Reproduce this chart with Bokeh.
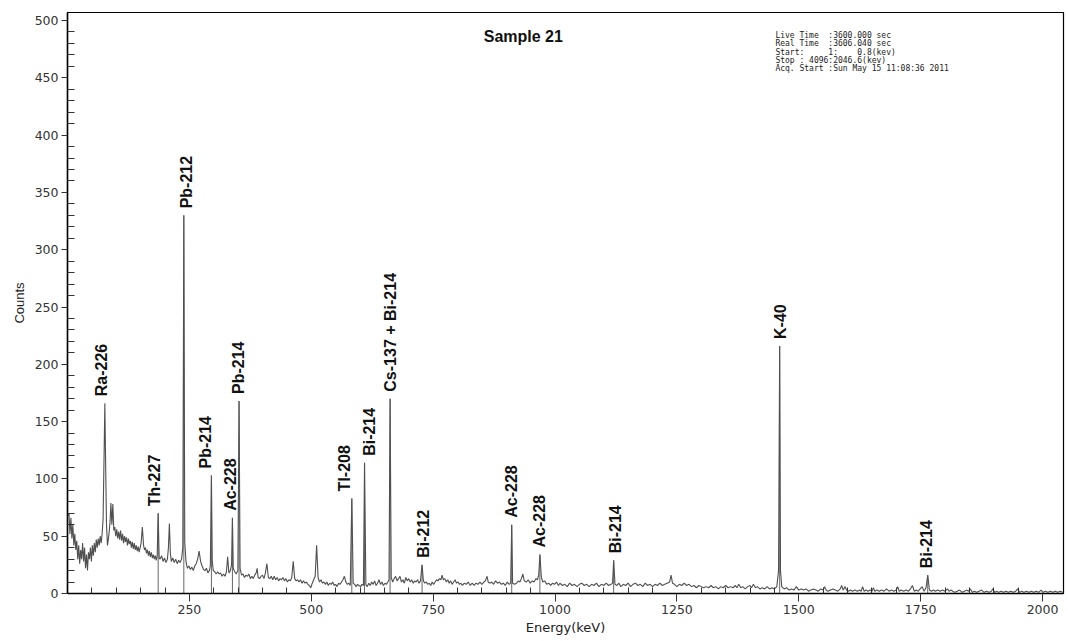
from math import pi
from bokeh.plotting import figure
from bokeh.models import FixedTicker, Label, Range1d, ColumnDataSource
from bokeh.core.properties import value
from bokeh.embed import file_html
from bokeh.resources import INLINE

# ---------------- data ----------------
energy_kev = [
    1, 3, 5, 7, 9, 11, 13, 15, 17, 19,
    21, 23, 25, 27, 29, 31, 33, 35, 37, 39,
    41, 43, 45, 47, 49, 51, 53, 55, 57, 59,
    61, 63, 65, 67, 69, 71, 73, 75, 76.6, 78,
    80, 82, 84, 86, 87.5, 89, 91, 93, 95, 97,
    99, 101, 103, 105, 107, 109, 111, 113, 115, 117,
    119, 121, 123, 125, 127, 129, 131, 133, 135, 137,
    139, 141, 143, 145, 147, 149, 151, 153.5, 156, 158,
    160, 162, 164, 166, 168, 170, 172, 174, 176, 178,
    180, 182, 184, 186, 188, 190, 193, 196, 199, 202,
    205, 207, 209, 211, 213, 216, 219, 222, 225, 228,
    231, 234, 236.5, 238.6, 240.5, 243, 246, 249, 252, 255,
    258, 261, 264, 267, 270, 273, 276, 279, 282, 285,
    288, 291, 293, 295.2, 297, 299, 302, 305, 308, 311,
    314, 317, 320, 323, 326, 328.5, 331, 334, 336.5, 338.3,
    340, 343, 346, 349.5, 351.9, 354, 357, 360, 363, 366,
    369, 372, 375, 378, 381, 384, 387, 389, 391, 394,
    397, 400, 403, 406, 409, 412, 415, 418, 421, 424,
    427, 430, 433, 436, 439, 442, 445, 448, 451, 454,
    457, 460, 463, 466, 469, 472, 475, 478, 481, 484,
    487, 490, 493, 496, 499, 502, 505, 508, 511, 514,
    517, 520, 523, 526, 529, 532, 535, 538, 541, 544,
    547, 550, 553, 556, 559, 562, 565, 568, 571, 574,
    577, 580, 583.2, 586, 589, 592, 595, 598, 601, 604,
    607, 609.3, 612, 615, 618, 621, 624, 627, 630, 633,
    636, 639, 642, 645, 648, 651, 654, 657, 659.5, 661.7,
    664, 667, 670, 673, 676, 679, 682, 685, 688, 691,
    694, 697, 700, 703, 706, 709, 712, 715, 718, 721,
    724, 727.3, 730, 733, 736, 739, 742, 745, 748, 751,
    754, 757, 760, 763, 766, 768.4, 771, 774, 777, 780,
    783, 786, 789, 792, 795, 798, 801, 804, 807, 810,
    814, 818, 822, 826, 830, 834, 838, 842, 846, 850,
    854, 857, 860.6, 863, 866, 870, 874, 878, 882, 886,
    890, 894, 898, 902, 906, 909, 911.2, 913, 917, 921,
    925, 928, 931, 934, 937, 941, 945, 949, 953, 957,
    961, 964, 966.5, 969, 972, 975, 979, 983, 987, 991,
    995, 999, 1003, 1007, 1010, 1015, 1020, 1025, 1030, 1035,
    1040, 1045, 1050, 1055, 1060, 1065, 1070, 1075, 1080, 1085,
    1090, 1095, 1100, 1105, 1110, 1115, 1118, 1120.3, 1123, 1127,
    1131, 1135, 1140, 1145, 1150, 1155, 1160, 1165, 1170, 1175,
    1180, 1185, 1190, 1195, 1200, 1205, 1210, 1215, 1220, 1225,
    1230, 1235, 1238, 1241, 1245, 1250, 1255, 1260, 1265, 1270,
    1275, 1280, 1285, 1290, 1295, 1300, 1305, 1310, 1315, 1320,
    1325, 1330, 1335, 1340, 1345, 1350, 1355, 1360, 1365, 1370,
    1373, 1377, 1381, 1385, 1390, 1395, 1400, 1403, 1407, 1411,
    1415, 1420, 1425, 1430, 1435, 1440, 1445, 1450, 1455, 1458.5,
    1460.8, 1462.5, 1465, 1470, 1475, 1480, 1485, 1490, 1495, 1500,
    1505, 1510, 1515, 1520, 1525, 1530, 1535, 1540, 1545, 1550,
    1553, 1556, 1560, 1565, 1570, 1575, 1580, 1585, 1588, 1591,
    1595, 1598, 1602, 1606, 1610, 1615, 1620, 1625, 1628, 1631,
    1634, 1638, 1642, 1646, 1650, 1653, 1656, 1660, 1665, 1670,
    1675, 1680, 1685, 1690, 1695, 1700, 1703, 1706, 1710, 1715,
    1720, 1725, 1729, 1733, 1737, 1741, 1745, 1749, 1753, 1757,
    1761, 1764.5, 1768, 1772, 1776, 1780, 1785, 1790, 1795, 1800,
    1805, 1808, 1812, 1816, 1820, 1825, 1830, 1835, 1840, 1845,
    1848, 1852, 1856, 1860, 1865, 1870, 1875, 1880, 1885, 1890,
    1895, 1898, 1902, 1906, 1910, 1915, 1920, 1925, 1930, 1935,
    1940, 1945, 1949, 1953, 1957, 1962, 1967, 1972, 1977, 1982,
    1987, 1992, 1997, 2001, 2006, 2011, 2016, 2021, 2026, 2031,
    2036, 2041,
]
counts = [
    68, 70, 52, 66, 48, 60, 42, 52, 38, 46,
    30, 42, 26, 38, 30, 44, 28, 40, 22, 34,
    20, 36, 30, 40, 28, 42, 33, 44, 36, 47,
    40, 48, 42, 50, 44, 52, 65, 120, 166, 120,
    60, 42, 48, 56, 64, 79, 60, 78, 55, 58,
    50, 56, 48, 54, 47, 55, 46, 52, 44, 50,
    45, 49, 42, 48, 43, 46, 40, 45, 39, 44,
    38, 42, 37, 41, 36, 40, 44, 58, 42, 38,
    40, 35, 38, 33, 37, 32, 36, 31, 34, 30,
    33, 29, 33, 70, 31, 30, 33, 28, 31, 27,
    30, 40, 61, 35, 28, 31, 27, 30, 26, 29,
    27, 30, 40, 330, 45, 28, 22, 24, 21, 23,
    20, 24, 26, 30, 37, 28, 24, 21, 20, 22,
    18, 20, 24, 103, 28, 20, 19, 17, 19, 17,
    18, 15, 17, 15, 19, 32, 18, 20, 25, 66,
    22, 19, 17, 20, 168, 22, 16, 17, 14, 16,
    15, 17, 13, 15, 13, 16, 18, 22, 14, 13,
    15, 16, 13, 18, 26, 14, 13, 15, 12, 15,
    12, 14, 11, 13, 12, 14, 11, 13, 10, 12,
    11, 14, 28, 13, 11, 12, 10, 12, 9, 11,
    9, 10, 8, 7, 5, 9, 12, 15, 42, 14,
    10, 12, 9, 10, 8, 10, 7, 9, 8, 10,
    7, 8, 6, 9, 8, 10, 12, 15, 10, 8,
    9, 7, 83, 9, 8, 6, 8, 7, 6, 8,
    7, 114, 8, 6, 9, 7, 10, 8, 11, 7,
    9, 12, 8, 10, 7, 9, 8, 10, 12, 170,
    14, 10, 13, 15, 11, 13, 15, 10, 12, 9,
    14, 11, 13, 10, 12, 9, 11, 10, 12, 9,
    11, 25, 11, 9, 10, 8, 9, 7, 10, 8,
    10, 12, 11, 13, 12, 16, 12, 13, 10, 12,
    9, 11, 8, 10, 12, 9, 10, 8, 9, 7,
    9, 8, 10, 7, 9, 7, 9, 8, 10, 8,
    10, 11, 15, 10, 9, 10, 8, 11, 9, 10,
    8, 9, 7, 10, 8, 9, 60, 9, 8, 9,
    11, 10, 13, 17, 11, 10, 12, 9, 11, 10,
    13, 12, 16, 34, 14, 10, 11, 8, 9, 7,
    9, 8, 10, 7, 9, 7, 8, 6, 9, 7,
    8, 6, 8, 9, 7, 8, 6, 8, 7, 9,
    6, 8, 7, 9, 7, 8, 9, 29, 8, 7,
    9, 6, 8, 7, 9, 6, 8, 9, 7, 8,
    6, 9, 7, 8, 6, 8, 7, 9, 7, 8,
    9, 10, 16, 9, 8, 6, 8, 7, 9, 7,
    8, 6, 7, 5, 7, 6, 5, 6, 5, 7,
    5, 6, 4, 6, 5, 7, 5, 6, 5, 7,
    5, 8, 5, 6, 4, 6, 7, 5, 8, 5,
    6, 4, 5, 4, 6, 4, 5, 4, 6, 20,
    216, 20, 6, 4, 5, 3, 4, 3, 6, 3,
    4, 3, 4, 2, 3, 4, 3, 2, 4, 3,
    6, 3, 2, 3, 4, 3, 2, 4, 7, 3,
    6, 3, 2, 3, 2, 3, 2, 3, 2, 6,
    2, 3, 2, 3, 2, 5, 2, 3, 2, 3,
    2, 4, 2, 3, 2, 3, 6, 2, 3, 2,
    3, 2, 4, 7, 2, 3, 2, 4, 6, 2,
    5, 16, 3, 2, 3, 2, 3, 2, 3, 2,
    4, 2, 3, 2, 1, 2, 3, 1, 2, 3,
    2, 4, 1, 2, 1, 2, 3, 1, 2, 1,
    2, 4, 1, 2, 1, 2, 1, 2, 1, 2,
    1, 2, 4, 1, 2, 1, 2, 1, 2, 1,
    2, 1, 3, 1, 2, 1, 2, 1, 2, 1,
    2, 1,
]
assert len(energy_kev) == len(counts)

peak_names = ["Ra-226", "Th-227", "Pb-212", "Pb-214", "Ac-228", "Pb-214",
              "Tl-208", "Bi-214", "Cs-137 + Bi-214", "Bi-212", "Ac-228",
              "Ac-228", "Bi-214", "K-40", "Bi-214"]
peak_energy = [76.6, 186, 238.6, 295.2, 338.3, 351.9, 583.2, 609.3, 661.7,
               727.3, 911.2, 969.0, 1120.3, 1460.8, 1764.5]
peak_counts = [166, 70, 330, 103, 66, 168, 83, 114, 170, 25, 60, 34, 29, 216, 16]

x_ticks = [250, 500, 750, 1000, 1250, 1500, 1750, 2000]
x_minor = [50, 100, 150, 200, 300, 350, 400, 450, 550, 600, 650, 700, 800, 850,
           900, 950, 1050, 1100, 1150, 1200, 1300, 1350, 1400, 1450, 1550, 1600,
           1650, 1700, 1800, 1850, 1900, 1950]
y_ticks = [0, 50, 100, 150, 200, 250, 300, 350, 400, 450, 500]
y_minor = [v for v in range(10, 510, 10) if v % 50]

title_text = "Sample 21"
info_lines = ["Live Time  :3600.000 sec",
              "Real Time  :3606.040 sec",
              "Start:     1:    0.8(kev)",
              "Stop : 4096:2046.6(kev)",
              "Acq. Start :Sun May 15 11:08:36 2011"]

# ---------------- styling / layout ----------------
label_dx = [-3, -4, 3, -6, -2, -1, -7, 5, 0, 1, 0, 0, 2, 1, -1]  # px nudges

p = figure(width=1068, height=641, output_backend="svg", toolbar_location=None,
           title=None, x_range=Range1d(0, 2043), y_range=Range1d(0, 507),
           min_border_left=67, min_border_right=5, min_border_top=12,
           min_border_bottom=48)
p.background_fill_color = "white"
p.border_fill_color = "white"
p.outline_line_color = "black"
p.outline_line_width = 1.2
p.grid.visible = False

# marker lines at identified peaks (all but the first)
p.segment(x0=peak_energy[1:], y0=[0] * (len(peak_energy) - 1),
          x1=peak_energy[1:], y1=peak_counts[1:], line_color="#666666",
          line_width=1)

p.line(energy_kev, counts, line_color="#505050", line_width=1.1)

lab_src = ColumnDataSource(dict(x=peak_energy, y=peak_counts, t=peak_names,
                                dx=label_dx))
p.text(x="x", y="y", text="t", source=lab_src, angle=pi / 2,
       x_offset="dx", y_offset=-7, text_align="left", text_baseline="middle",
       text_font=value("Liberation Sans Narrow, Liberation Sans"),
       text_font_style="bold", text_font_size="16px", text_color="#111111")

p.add_layout(Label(x=935, y=486, text=title_text, text_align="center",
                   text_baseline="middle",
                   text_font="Liberation Sans", text_font_style="bold",
                   text_font_size="16px", text_color="#111111"))
for i, line in enumerate(info_lines):
    p.add_layout(Label(x=1452, y=487 - i * 7.3,
                       text=line.replace(" ", "\u00a0"), text_align="left",
                       text_baseline="middle", text_font="DejaVu Sans Mono",
                       text_font_size="8px", text_color="#222222"))

xt = FixedTicker(ticks=x_ticks, minor_ticks=x_minor)
yt = FixedTicker(ticks=y_ticks, minor_ticks=y_minor)
p.xaxis.ticker = xt
p.yaxis.ticker = yt

for ax in (p.xaxis[0], p.yaxis[0]):
    ax.axis_line_color = "black"
    ax.axis_line_width = 1.5
    ax.major_tick_line_color = "#333333"
    ax.minor_tick_line_color = "#333333"
    ax.major_tick_in = 0
    ax.minor_tick_out = 0
    ax.major_label_text_font = "DejaVu Sans"
    ax.major_label_text_font_size = "12.5px"
    ax.major_label_text_color = "#333333"
    ax.axis_label_text_font_style = "normal"
    ax.axis_label_text_color = "#222222"

p.xaxis.major_tick_out = 8
p.xaxis.minor_tick_in = 6
p.xaxis.major_label_standoff = 3
p.xaxis.axis_label = "Energy(keV)"
p.xaxis.axis_label_text_font = "DejaVu Sans"
p.xaxis.axis_label_text_font_size = "13px"
p.xaxis.axis_label_standoff = 3

p.yaxis.major_tick_out = 6
p.yaxis.minor_tick_in = 7
p.yaxis.major_label_standoff = 3
p.yaxis.axis_label = "Counts"
p.yaxis.axis_label_text_font = "Liberation Sans Narrow, Liberation Sans"
p.yaxis.axis_label_text_font_size = "13px"
p.yaxis.axis_label_standoff = 5

open("out.html", "w").write(file_html(p, INLINE))
